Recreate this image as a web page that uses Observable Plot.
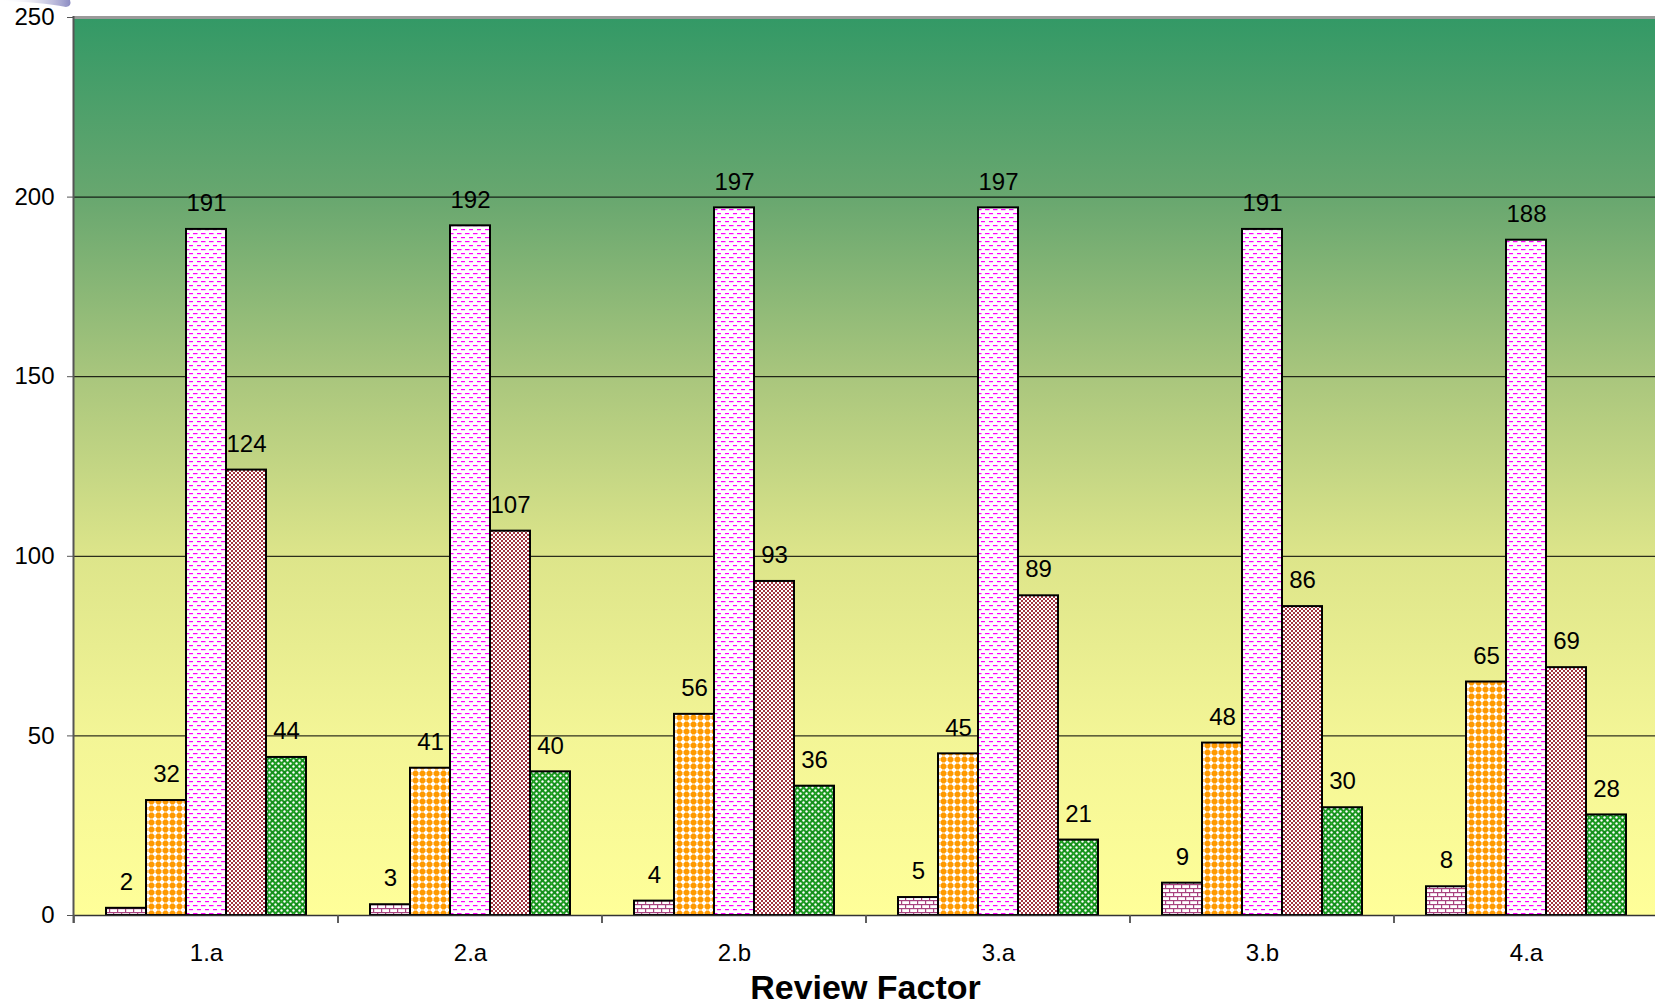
<!DOCTYPE html>
<html>
<head>
<meta charset="utf-8">
<script src="https://cdn.jsdelivr.net/npm/d3@7"></script>
<script src="https://cdn.jsdelivr.net/npm/@observablehq/plot@0.6"></script>
<style>
  html, body { margin: 0; padding: 0; background: #fff; overflow: hidden; }
  #chart svg { display: block; overflow: hidden; }
  #cap { width: 1655px; height: 38px; line-height: 38px; box-sizing: border-box; padding-left: 76px;
         text-align: center; font: bold 34px "Liberation Sans", Arial, sans-serif; color: #000; }
</style>
</head>
<body>
<div id="chart"></div>
<div id="cap">Review Factor</div>
<script>
// ---- data ----
const categories = ["1.a", "2.a", "2.b", "3.a", "3.b", "4.a"];
const series = ["S1", "S2", "S3", "S4", "S5"];
const s1 = [2, 3, 4, 5, 9, 8];
const s2 = [32, 41, 56, 45, 48, 65];
const s3 = [191, 192, 197, 197, 191, 188];
const s4 = [124, 107, 93, 89, 86, 69];
const s5 = [44, 40, 36, 21, 30, 28];
const yTicks = [0, 50, 100, 150, 200, 250];
const gridValues = [50, 100, 150, 200];

const seriesValues = [s1, s2, s3, s4, s5];
const data = categories.flatMap((c, i) =>
  series.map((s, j) => ({ category: c, series: s, value: seriesValues[j][i] }))
);

const chart = Plot.plot({
  width: 1655,
  height: 968,
  marginTop: 17,
  marginLeft: 73,
  marginRight: 0,
  marginBottom: 53,
  style: { fontFamily: "'Liberation Sans', Arial, sans-serif", fontSize: "24px", background: "transparent", color: "#000" },
  fx: { domain: categories, range: [73.5, 1658], padding: 0, label: null },
  x: { domain: series, paddingInner: 0, paddingOuter: 0.73, axis: null },
  y: { domain: [0, 250] },
  color: { domain: series, range: series.map((s, i) => `url(#pat${i})`) },
  marks: [
    Plot.frame({ fill: "url(#bg)", insetLeft: -1, insetRight: -1 }),
    Plot.ruleY(gridValues, { stroke: "#000", strokeWidth: 1 }),
    Plot.ruleY([250], { stroke: "#9a9a9a", strokeWidth: 3 }),
    Plot.barY(data, { fx: "category", x: "series", y: "value", fill: "series", stroke: "#000", strokeWidth: 2 }),
    Plot.ruleY([0], { stroke: "#333", strokeWidth: 1.5 }),
    Plot.text(data, { fx: "category", x: "series", y: "value", text: d => String(d.value), dy: -26, fill: "#000", fontSize: 24 }),
    Plot.axisY({ ticks: yTicks, tickSize: 7, tickPadding: 13, label: null, fontSize: 24, stroke: "#555" }),
    Plot.axisFx({ anchor: "bottom", tickSize: 0, tickPadding: 28, label: null, fontSize: 24 })
  ]
});

document.getElementById("chart").appendChild(chart);

// ---- defs: background gradient and bar patterns ----
const svg = d3.select(chart);
svg.insert("defs", ":first-child").html(`
  <linearGradient id="bg" x1="0" y1="0" x2="0" y2="1">
    <stop offset="0" stop-color="#339966"/>
    <stop offset="0.2" stop-color="#68a76f"/>
    <stop offset="0.4" stop-color="#a9c67d"/>
    <stop offset="0.6" stop-color="#dde58a"/>
    <stop offset="0.8" stop-color="#f3f596"/>
    <stop offset="1" stop-color="#ffff99"/>
  </linearGradient>
  <linearGradient id="swoosh" x1="0" y1="0" x2="1" y2="0">
    <stop offset="0" stop-color="#ffffff" stop-opacity="0"/>
    <stop offset="1" stop-color="#5a5aa8"/>
  </linearGradient>
  <pattern id="pat0" width="8" height="8" patternUnits="userSpaceOnUse">
    <rect width="8" height="8" fill="#fff"/>
    <rect x="0" y="0" width="8" height="1.2" fill="#a8437f"/>
    <rect x="0" y="4" width="8" height="1.2" fill="#a8437f"/>
    <rect x="0" y="0" width="1.2" height="4" fill="#a8437f"/>
    <rect x="4" y="4" width="1.2" height="4" fill="#a8437f"/>
  </pattern>
  <pattern id="pat1" width="7" height="7" patternUnits="userSpaceOnUse">
    <rect width="7" height="7" fill="#fff"/>
    <rect x="0.5" y="2" width="6" height="3" fill="#ff9900"/>
    <rect x="2" y="0.5" width="3" height="6" fill="#ff9900"/>
    <rect x="1.2" y="1.2" width="4.6" height="4.6" fill="#ff9900"/>
  </pattern>
  <pattern id="pat2" width="8" height="8" patternUnits="userSpaceOnUse">
    <rect width="8" height="8" fill="#fff"/>
    <rect x="0" y="1" width="4.5" height="1.2" fill="#ff00ff"/>
    <rect x="4" y="5" width="4.5" height="1.2" fill="#ff00ff"/>
  </pattern>
  <pattern id="pat3" width="4" height="4" patternUnits="userSpaceOnUse">
    <rect width="4" height="4" fill="#fff"/>
    <rect x="0" y="0" width="2" height="2" fill="#a03540"/>
    <rect x="2" y="2" width="2" height="2" fill="#a03540"/>
  </pattern>
  <pattern id="pat4" width="6" height="6" patternUnits="userSpaceOnUse">
    <rect width="6" height="6" fill="#14901a"/>
    <circle cx="1.5" cy="1.5" r="1.2" fill="#fff"/>
    <circle cx="4.5" cy="4.5" r="1.2" fill="#fff"/>
    <circle cx="4.5" cy="1.5" r="1" fill="#2fb52f"/>
  </pattern>
`);

// ---- y axis line and x-axis group boundary ticks ----
const fxScale = chart.scale("fx");
const yScale = chart.scale("y");
const y0 = yScale.apply(0);
const yTop = yScale.apply(250);
const left = fxScale.range[0];
const g = svg.append("g").attr("stroke", "#555");
g.append("line").attr("x1", left).attr("x2", left).attr("y1", yTop - 1).attr("y2", y0 + 8).attr("stroke-width", 2);
categories.forEach(c => {
  const xs = fxScale.apply(c);
  [xs, xs + fxScale.bandwidth].forEach(x => {
    g.append("line").attr("x1", x).attr("x2", x).attr("y1", y0).attr("y2", y0 + 8).attr("stroke-width", 1.5);
  });
});
// small decorative swoosh at the top-left corner of the original image
svg.append("path").attr("d", "M0,0 L70,0 Q72,6 66,7 Q40,2 0,1 Z").attr("fill", "url(#swoosh)").attr("opacity", 0.7);
</script>
</body>
</html>
